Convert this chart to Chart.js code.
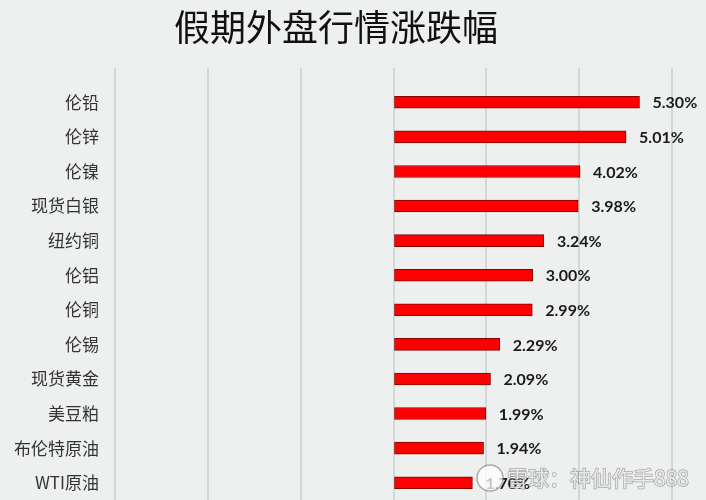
<!DOCTYPE html>
<html>
<head>
<meta charset="utf-8">
<script src="https://cdn.jsdelivr.net/npm/chart.js@4/dist/chart.umd.min.js"></script>
<style>
  html, body { margin: 0; padding: 0; background: #eef0f0; }
  #wrap { width: 706px; height: 500px; }
</style>
</head>
<body>
<div id="wrap"><canvas id="holidayChart"></canvas></div>
<script>
// Categories and their change (%)
var categories = ['伦铅', '伦锌', '伦镍', '现货白银', '纽约铜', '伦铝', '伦铜', '伦锡', '现货黄金', '美豆粕', '布伦特原油', 'WTI原油'];
var changes = [5.30, 5.01, 4.02, 3.98, 3.24, 3.00, 2.99, 2.29, 2.09, 1.99, 1.94, 1.70];

var titleText = '假期外盘行情涨跌幅';
var watermarkText = '雪球：神仙作手888';

// Draw the percent text at the end of each bar
var valueLabels = {
    id: 'valueLabels',
    afterDatasetsDraw: function(chart) {
        var ctx = chart.ctx;
        var meta = chart.getDatasetMeta(0);
        ctx.save();
        ctx.font = 'bold 16px Lato, "Noto Sans", sans-serif';
        ctx.fillStyle = '#1a1a1a';
        ctx.textAlign = 'left';
        ctx.textBaseline = 'middle';
        meta.data.forEach(function(bar, i) {
            ctx.fillText(changes[i].toFixed(2) + '%', bar.x + 13, bar.y + 1);
        });
        ctx.restore();
    }
};

// Faint site watermark in the lower right corner
var watermark = {
    id: 'watermark',
    afterDraw: function(chart) {
        var ctx = chart.ctx;
        ctx.save();
        ctx.font = '21px "Noto Sans CJK SC", sans-serif';
        ctx.textAlign = 'left';
        ctx.textBaseline = 'middle';
        ctx.lineWidth = 1.5;
        ctx.strokeStyle = 'rgba(110,110,110,0.55)';
        ctx.fillStyle = 'rgba(255,255,255,0.75)';
        ctx.beginPath();
        ctx.arc(490, 478, 13, 0, Math.PI * 2);
        ctx.fill();
        ctx.stroke();
        ctx.strokeText(watermarkText, 507, 478);
        ctx.fillText(watermarkText, 507, 478);
        ctx.restore();
    }
};

var ctx = document.getElementById('holidayChart').getContext('2d');

var holidayChart = new Chart(ctx, {
    type: 'bar',
    data: {
        labels: categories,
        datasets: [{
            data: changes,
            backgroundColor: '#ff0000',
            borderColor: '#8a0000',
            borderWidth: 1,
            borderSkipped: false,
            barThickness: 12
        }]
    },
    options: {
        indexAxis: 'y',
        responsive: true,
        maintainAspectRatio: false,
        animation: false,
        layout: { padding: { left: 0, right: 34, top: 0, bottom: 0 } },
        scales: {
            x: {
                position: 'top',
                min: -6,
                max: 6,
                ticks: { stepSize: 2, display: false },
                grid: { color: '#d3d7d7', lineWidth: 2, tickLength: 17 },
                border: { display: false }
            },
            y: {
                // tick marks hidden, but their length keeps the labels off the plot
                grid: { display: false, drawTicks: true, tickLength: 16 },
                border: { display: false },
                ticks: {
                    padding: 0,
                    color: '#333',
                    font: { size: 17, family: '"Noto Sans CJK SC", sans-serif' }
                },
                afterFit: function(scale) {
                    scale.width = 115;
                    // let the last row run down to the bottom edge
                    scale.paddingTop = 0;
                    scale.paddingBottom = 0;
                }
            }
        },
        plugins: {
            legend: { display: false },
            tooltip: { enabled: false },
            title: {
                display: true,
                text: titleText,
                color: '#111',
                font: { size: 36, weight: 'normal', family: '"Noto Sans CJK SC", sans-serif' },
                padding: { top: 6, bottom: 18.8 }
            }
        }
    },
    plugins: [valueLabels, watermark]
});
</script>
</body>
</html>
